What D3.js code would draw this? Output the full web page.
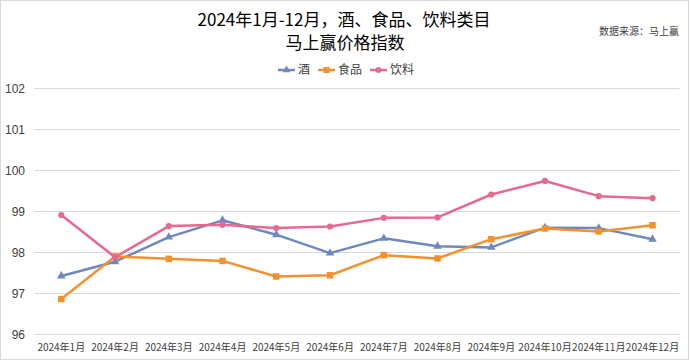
<!DOCTYPE html>
<html><head><meta charset="utf-8">
<script src="https://cdn.jsdelivr.net/npm/d3@7"></script>
<style>
html,body{margin:0;padding:0;background:#fff;}
svg{display:block;font-family:"Noto Sans CJK SC","Noto Sans",sans-serif;}
</style></head>
<body><svg id="c" width="690" height="361"></svg>
<script>
const categories = ["2024年1月","2024年2月","2024年3月","2024年4月","2024年5月","2024年6月","2024年7月","2024年8月","2024年9月","2024年10月","2024年11月","2024年12月"];
const seriesNames = ["酒","食品","饮料"];
const jiu = [97.42,97.77,98.37,98.78,98.43,97.98,98.34,98.15,98.12,98.60,98.59,98.32];
const shipin = [96.86,97.90,97.84,97.79,97.41,97.44,97.93,97.85,98.32,98.58,98.51,98.66];
const yinliao = [98.91,97.88,98.64,98.67,98.59,98.63,98.84,98.85,99.41,99.74,99.37,99.32];
const yTicks = [96,97,98,99,100,101,102];
const colors = ["#6F89C0","#F3912F","#E8698E"];
const markers = [d3.symbolTriangle, d3.symbolSquare, d3.symbolCircle];

const svg = d3.select("#c");
// border
svg.append("rect").attr("x",0.5).attr("y",0.5).attr("width",688).attr("height",359)
  .attr("fill","#fff").attr("stroke","#d9d9d9");

const x = d3.scaleBand().domain(categories).range([34.4,679.4]);
const y = d3.scaleLinear().domain([96,102]).range([334.3,88.3]);

// grid
svg.append("g").selectAll("line").data(yTicks).join("line")
  .attr("x1",34.4).attr("x2",679.4)
  .attr("y1",d=>Math.round(y(d))+0.5).attr("y2",d=>Math.round(y(d))+0.5)
  .attr("stroke","#d9d9d9").attr("stroke-width",1);

// y labels
svg.append("g").selectAll("text").data(yTicks).join("text")
  .attr("x",25).attr("y",d=>y(d)).attr("dy","0.35em")
  .attr("text-anchor","end").attr("font-size",12).attr("fill","#404040")
  .attr("font-family","'Liberation Sans',Arial,sans-serif")
  .text(d=>d);

// x labels
svg.append("g").selectAll("text").data(categories).join("text")
  .attr("x",d=>x(d)+x.bandwidth()/2).attr("y",347).attr("dy","0.35em")
  .attr("text-anchor","middle").attr("font-size",10).attr("fill","#404040")
  .text(d=>d);

const data = [jiu, shipin, yinliao];
const line = d3.line().x((d,i)=>x(categories[i])+x.bandwidth()/2).y(d=>y(d));
data.forEach((s,k)=>{
  svg.append("path").datum(s).attr("d",line).attr("fill","none")
    .attr("stroke",colors[k]).attr("stroke-width",2.5).attr("stroke-linejoin","round");
  const sym = d3.symbol().type(markers[k]).size(k===1?42:k===0?32:30);
  svg.append("g").selectAll("path").data(s).join("path")
    .attr("transform",(d,i)=>`translate(${x(categories[i])+x.bandwidth()/2},${y(d)})`)
    .attr("d",sym).attr("fill",colors[k]);
});

// title
svg.append("text").attr("x",344).attr("y",20).attr("dy","0.35em").attr("text-anchor","middle")
  .attr("font-size",17).attr("fill","#000").text("2024年1月-12月，酒、食品、饮料类目");
svg.append("text").attr("x",345).attr("y",43).attr("dy","0.35em").attr("text-anchor","middle")
  .attr("font-size",17).attr("fill","#000").text("马上赢价格指数");

// source
svg.append("text").attr("x",679).attr("y",31).attr("dy","0.35em").attr("text-anchor","end")
  .attr("font-size",10).attr("fill","#404040").text("数据来源：马上赢");

// legend
const legX = [278, 318, 370];
const lg = svg.append("g");
seriesNames.forEach((n,k)=>{
  const g = lg.append("g").attr("transform",`translate(${legX[k]},70)`);
  g.append("line").attr("x1",0).attr("x2",17).attr("y1",0).attr("y2",0)
    .attr("stroke",colors[k]).attr("stroke-width",2.5);
  g.append("path").attr("transform","translate(8.5,0)")
    .attr("d",d3.symbol().type(markers[k]).size(k===1?36:26)()).attr("fill",colors[k]);
  g.append("text").attr("x",20).attr("y",0).attr("dy","0.35em")
    .attr("font-size",12).attr("fill","#404040").text(n);
});
</script></body></html>
